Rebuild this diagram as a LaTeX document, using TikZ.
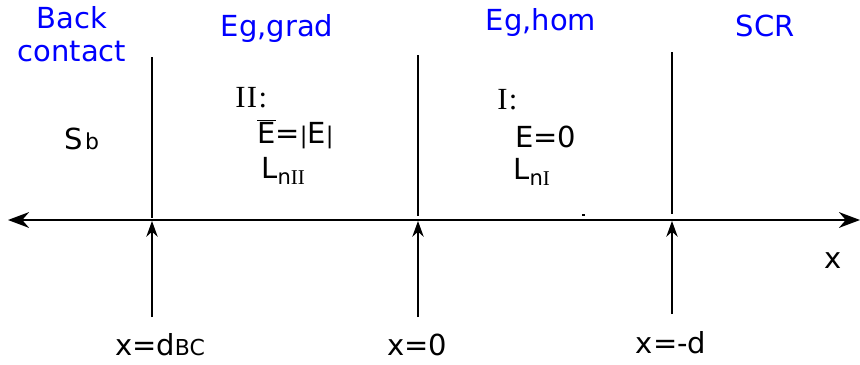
\documentclass[tikz,border=0pt]{standalone}
\usepackage{fontspec}
\setmainfont{DejaVu Sans}
\newfontfamily\romfont{Liberation Serif}
\usetikzlibrary{arrows.meta}
\newcommand{\lowsub}[1]{\raisebox{-0.2em}{\fontsize{12}{13}\selectfont #1}}
\newcommand{\flatsub}[1]{{\fontsize{12.5}{13}\selectfont #1}}
\newcommand{\smallbar}{{\fontsize{13}{13}\selectfont|}}
\newcommand{\romnum}[1]{{\romfont\fontsize{17.5}{19}\selectfont #1}}

\begin{document}
\begin{tikzpicture}[x=0.02cm,y=-0.02cm,
    lbl/.style={font=\fontsize{16.5}{19}\selectfont, inner sep=0pt},
    region/.style={lbl, text=blue, align=center},
    bound/.style={line width=0.6pt},
    marker/.style={line width=0.6pt, -{Stealth[length=9pt,width=6.5pt]}}]
  \useasboundingbox (0,0) rectangle (860,365); % keep the page at the reference size
  % the x axis
  \coordinate (axL) at (8,220);
  \coordinate (axR) at (860,220);
  \draw[line width=1pt, {Stealth[length=12pt,width=9pt]}-{Stealth[length=12pt,width=9pt]}] (axL) -- (axR);
  \node[lbl] (xlab) at (833,261) {x};
  % region boundaries above the axis
  \coordinate (bcTop) at (152,57);   \coordinate (bcAx) at (152,218);
  \coordinate (zeroTop) at (418,55); \coordinate (zeroAx) at (418,216);
  \coordinate (dTop) at (672,52);    \coordinate (dAx) at (672,214);
  \draw[bound] (bcTop) -- (bcAx);
  \draw[bound] (zeroTop) -- (zeroAx);
  \draw[bound] (dTop) -- (dAx);
  \draw[line width=0.8pt] (582,215) -- (585,215);
  % positions marked from below
  \coordinate (bcLow) at (152,317);   \coordinate (bcTip) at (152,221);
  \coordinate (zeroLow) at (418,317); \coordinate (zeroTip) at (418,221);
  \coordinate (dLow) at (672,314);    \coordinate (dTip) at (672,221);
  \draw[marker] (bcLow) -- (bcTip);
  \draw[marker] (zeroLow) -- (zeroTip);
  \draw[marker] (dLow) -- (dTip);
  \node[lbl] (posBC) at (160,345) {x=d\flatsub{BC}};
  \node[lbl] (posZero) at (417,345) {x=0};
  \node[lbl] (posD) at (671,343) {x=-d};
  % region names
  \node[region] (back) at (72,34) {Back\\contact};
  \node[region] (grad) at (277,29) {Eg,grad};
  \node[region] (hom) at (541,23) {Eg,hom};
  \node[region] (scr) at (765,26) {SCR};
  % back contact
  \node[lbl] (sb) at (82,139) {S\kern1pt\flatsub{b}};
  % region II
  \node[lbl, anchor=west] (two) at (235,98) {\romnum{I\kern0.8pt I\kern0.8pt:}};
  \node[lbl, anchor=west] (fieldII) at (257,134) {$\overline{\mbox{E}}$=\smallbar E\smallbar};
  \node[lbl, anchor=west] (diffII) at (261,171) {L\lowsub{n{\romfont II}}};
  % region I
  \node[lbl, anchor=west] (one) at (497,100) {\romnum{I\kern0.8pt:}};
  \node[lbl, anchor=west] (fieldI) at (515,137) {E=0};
  \node[lbl, anchor=west] (diffI) at (513,172) {L\lowsub{n{\romfont I}}};
\end{tikzpicture}
\end{document}
